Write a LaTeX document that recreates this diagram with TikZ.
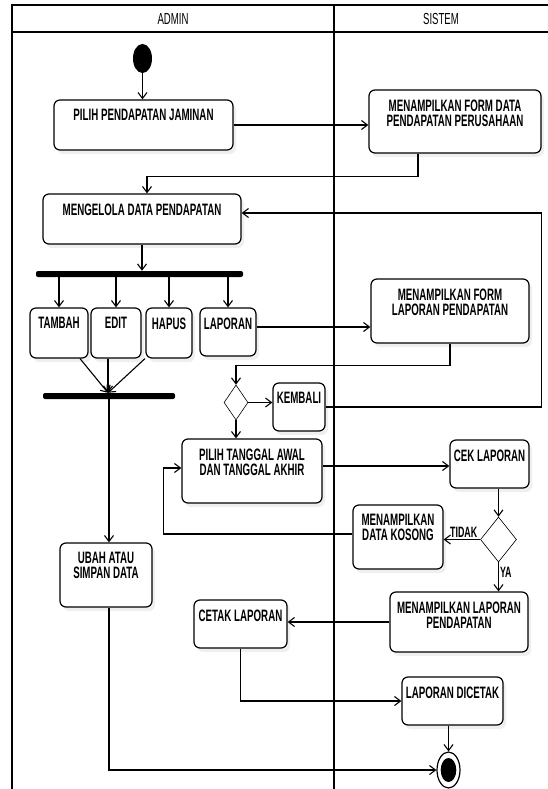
\documentclass[tikz,border=0pt]{standalone}
\usepackage{fontspec}
\usetikzlibrary{arrows.meta,shapes.geometric,shadows}
\newfontfamily\boxfont[FakeStretch=0.59]{Liberation Sans Bold}
\newfontfamily\headfont[FakeStretch=0.6]{Liberation Sans}
\begin{document}
\begin{tikzpicture}[x=1pt, y=-1pt,
    lane/.style={line width=1.2pt},
    act/.style={draw, line width=1.2pt, rounded corners=6pt, fill=white, inner sep=0pt,
      drop shadow={fill=black!12, shadow xshift=3pt, shadow yshift=-4pt}},
    txt/.style={anchor=north, yshift=-10pt, inner sep=0pt, align=center,
      font=\boxfont\fontsize{16.5}{15}\selectfont},
    bar/.style={fill=black, rounded corners=2pt, inner sep=0pt, minimum height=6pt},
    decision/.style={draw, diamond, line width=0.6pt, inner sep=0pt, fill=white},
    arr/.style={line width=1.1pt, -{Straight Barb[length=6pt, width=9pt]}},
    guard/.style={inner sep=1pt, font=\boxfont\fontsize{15}{15}\selectfont}]
  \useasboundingbox (0,0) rectangle (548,789);
  % swimlanes
  \draw[lane] (12,789) -- (12,5) -- (548,5);
  \draw[lane] (12,32) -- (548,32);
  \draw[lane] (334,5) -- (334,789);
  \node[font=\headfont\fontsize{16}{16}\selectfont] (admin) at (173,18.5) {ADMIN};
  \node[font=\headfont\fontsize{16}{16}\selectfont] (sistem) at (441,18.5) {SISTEM};

  % admin lane
  \node[fill, ellipse, minimum width=19pt, minimum height=29pt, inner sep=0pt] (start) at (142.5,58.5) {};
  \node[act, minimum width=179pt, minimum height=50pt, label={[txt]north:PILIH PENDAPATAN JAMINAN}] (pj) at (143.5,125) {};
  \node[act, minimum width=198pt, minimum height=50pt, label={[txt]north:MENGELOLA DATA PENDAPATAN}] (kelola) at (142,219) {};
  \node[bar, minimum width=207pt] (bar1) at (139.5,274) {};
  \node[act, minimum width=58pt, minimum height=50pt, label={[txt]north:TAMBAH}] (tambah) at (59,333) {};
  \node[act, minimum width=50pt, minimum height=50pt, label={[txt]north:EDIT}] (edit) at (116,333) {};
  \node[act, minimum width=46pt, minimum height=50pt, label={[txt]north:HAPUS}] (hapus) at (169,333) {};
  \node[act, minimum width=56pt, minimum height=48pt, label={[txt]north:LAPORAN}] (laporan) at (228,332) {};
  \node[bar, minimum width=132pt] (bar2) at (109,396) {};
  \node[act, minimum width=92pt, minimum height=64pt, label={[txt]north:{UBAH ATAU\\SIMPAN DATA}}] (ubah) at (106,575) {};
  \node[decision, minimum width=24pt, minimum height=35pt] (d1) at (236,402.5) {};
  \node[act, minimum width=52pt, minimum height=48pt, label={[txt]north:KEMBALI}] (kembali) at (299,407) {};
  \node[act, minimum width=140pt, minimum height=64pt, label={[txt]north:{PILIH TANGGAL AWAL\\DAN TANGGAL AKHIR}}] (pt) at (252,471) {};
  \node[act, minimum width=93pt, minimum height=48pt, label={[txt]north:CETAK LAPORAN}] (cetak) at (240.5,624) {};

  % sistem lane
  \node[act, minimum width=172pt, minimum height=63pt, label={[txt]north:{MENAMPILKAN FORM DATA\\PENDAPATAN PERUSAHAAN}}] (mfd) at (455,121.5) {};
  \node[act, minimum width=158pt, minimum height=64pt, label={[txt]north:{MENAMPILKAN FORM\\LAPORAN PENDAPATAN}}] (mfl) at (450,311) {};
  \node[act, minimum width=79pt, minimum height=48pt, label={[txt]north:CEK LAPORAN}] (cek) at (489.5,464) {};
  \node[decision, minimum width=36pt, minimum height=45pt] (d2) at (498.5,539.5) {};
  \node[act, minimum width=90pt, minimum height=64pt, label={[txt]north:{MENAMPILKAN\\DATA KOSONG}}] (mdk) at (398,537) {};
  \node[act, minimum width=138pt, minimum height=60pt, label={[txt]north:{MENAMPILKAN LAPORAN\\PENDAPATAN}}] (mlp) at (459,622) {};
  \node[act, minimum width=101pt, minimum height=48pt, label={[txt]north:LAPORAN DICETAK}] (ld) at (452.5,701) {};
  \node[draw, ellipse, line width=1.2pt, fill=white, minimum width=23pt, minimum height=36pt, inner sep=0pt] (finish) at (448.5,770) {};
  \node[fill, ellipse, minimum width=15.6pt, minimum height=24pt, inner sep=0pt] (finishdot) at (finish) {};

  % flows
  \draw[arr] (start.south) -- (start.south |- pj.north);
  \draw[arr] (pj.east) -- (pj.east -| mfd.west);
  \draw[arr] ([xshift=-37pt]mfd.south) -- ++(0,23) -| ([xshift=5pt]kelola.north);
  \draw[arr] (kelola.south) -- (kelola.south |- bar1.north);
  \foreach \n in {tambah,edit,hapus,laporan}
    \draw[arr] (bar1.south -| \n.north) -- (\n.north);
  \foreach \n/\dx in {tambah/21pt,edit/-8pt,hapus/-24pt}
    \draw[arr] ([xshift=\dx]\n.south) -- ([xshift=-1pt]bar2.north);
  \draw[arr] (bar2.south) -- (bar2.south |- ubah.north);
  \draw[arr] (ubah.south -| bar2.south) |- (finish.west);
  \draw[arr] ([yshift=5pt]laporan.east) -- ([yshift=5pt]laporan.east -| mfl.west);
  \draw[arr] (mfl.south) -- ++(0,22) -| (d1.north);
  \draw[arr] (d1.east) -- (d1.east -| kembali.west);
  \draw[arr] (kembali.east) -- ++(216,0) |- ([yshift=6pt]kelola.east);
  \draw[arr] (d1.south) -- (d1.south |- pt.north);
  \draw[arr] ([yshift=5pt]pt.east) -- ([yshift=5pt]pt.east -| cek.west);
  \draw[arr] (d2.north |- cek.south) -- (d2.north);
  \draw[arr] (d2.west) -- node[guard, above, pos=.45] {TIDAK} (d2.west -| mdk.east);
  \draw[arr] ([yshift=3pt]mdk.west) -| ([xshift=-18pt, yshift=3pt]pt.west) -- ([yshift=3pt]pt.west);
  \draw[arr] (d2.south) -- node[guard, right, pos=.35] {YA} (d2.south |- mlp.north);
  \draw[arr] (mlp.west) -- (mlp.west -| cetak.east);
  \draw[arr] (cetak.south) |- (ld.west);
  \draw[arr] (ld.south -| finish.north) -- (finish.north);
\end{tikzpicture}
\end{document}
